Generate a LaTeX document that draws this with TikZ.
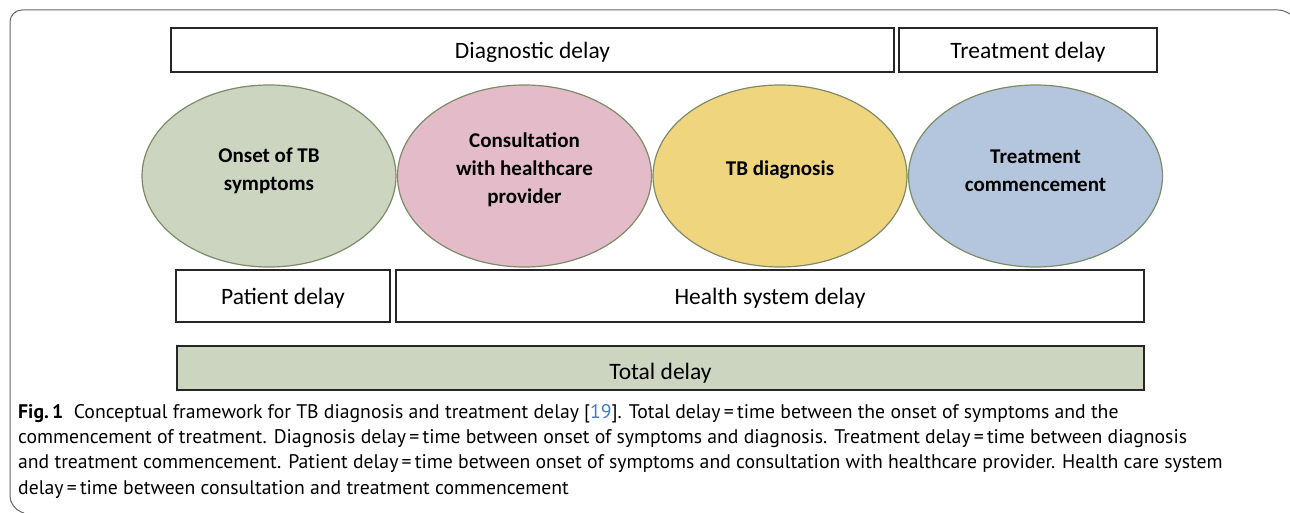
\documentclass[tikz,border=0pt]{standalone}
\usepackage{fontspec}
\setmainfont{Carlito}
\newfontfamily\capfont{PT Sans}
\usetikzlibrary{shapes.geometric}

\definecolor{sage}{HTML}{CBD5BF}
\definecolor{rose}{HTML}{E4BCC9}
\definecolor{sand}{HTML}{F0D57F}
\definecolor{steel}{HTML}{B4C6DD}
\definecolor{rim}{HTML}{7D8B68}
\definecolor{reflink}{HTML}{3A7DC9}

\tikzset{
  stage/.style = {draw=rim, line width=1.2pt, ellipse, minimum width=254pt, minimum height=182pt, inner sep=0pt},
  stagetext/.style = {align=center, inner sep=0pt, font=\fontsize{21}{28}\selectfont\bfseries},
  span/.style = {draw=black!85, line width=1.2pt, rectangle, inner sep=0pt, text depth=0pt, font=\fontsize{23.5}{28}\selectfont}
}

\begin{document}
\begin{tikzpicture}[x=1pt, y=-1pt]
\useasboundingbox (0,0) rectangle (1290,513);
% frame
\draw[black!60, line width=1pt, rounded corners=12pt] (1296,20) -- (1290,10) -- (10,10) -- (10,508) -- (24,513);
% top spans
\node[span, minimum width=723pt, minimum height=44pt] (diagdelay) at (532.5,50) {Diagnostic delay};
\node[span, minimum width=258pt, minimum height=44pt] (treatdelay) at (1028,50) {Treatment delay};
% stages
\node[stage, fill=sage] (onset) at (269,176) {};
\node[stage, fill=rose] (consult) at (524.5,176) {};
\node[stage, fill=sand] (diag) at (780,176) {};
\node[stage, fill=steel] (treat) at (1035.5,176) {};
\node[stagetext] (onsettext) at (269,170.5) {Onset of TB\\symptoms};
\node[stagetext] (consulttext) at (524.5,170) {Consultation\\with healthcare\\provider};
\node[stagetext] (diagtext) at (780,170) {TB diagnosis};
\node[stagetext] (treattext) at (1035.5,170.5) {Treatment\\commencement};
% bottom spans
\node[span, minimum width=214pt, minimum height=52pt] (patdelay) at (283,296) {Patient delay};
\node[span, minimum width=748pt, minimum height=52pt] (hsdelay) at (770,296) {Health system delay};
\node[span, fill=sage, minimum width=967pt, minimum height=44pt, text height=22pt] (totdelay) at (660.5,368) {Total delay};
% caption
\node[anchor=north west, align=left, inner sep=0pt, font=\capfont\fontsize{19.7}{25.3}\selectfont] (caption) at (18,404)
  {\textbf{Fig.\,1}\ \ Conceptual framework for TB diagnosis and treatment delay [\textcolor{reflink}{19}]. Total delay\,=\,time between the onset of symptoms and the\\
   commencement of treatment. Diagnosis delay\,=\,time between onset of symptoms and diagnosis. Treatment delay\,=\,time between diagnosis\\
   and treatment commencement. Patient delay\,=\,time between onset of symptoms and consultation with healthcare provider. Health care system\\
   delay\,=\,time between consultation and treatment commencement};
\end{tikzpicture}
\end{document}
